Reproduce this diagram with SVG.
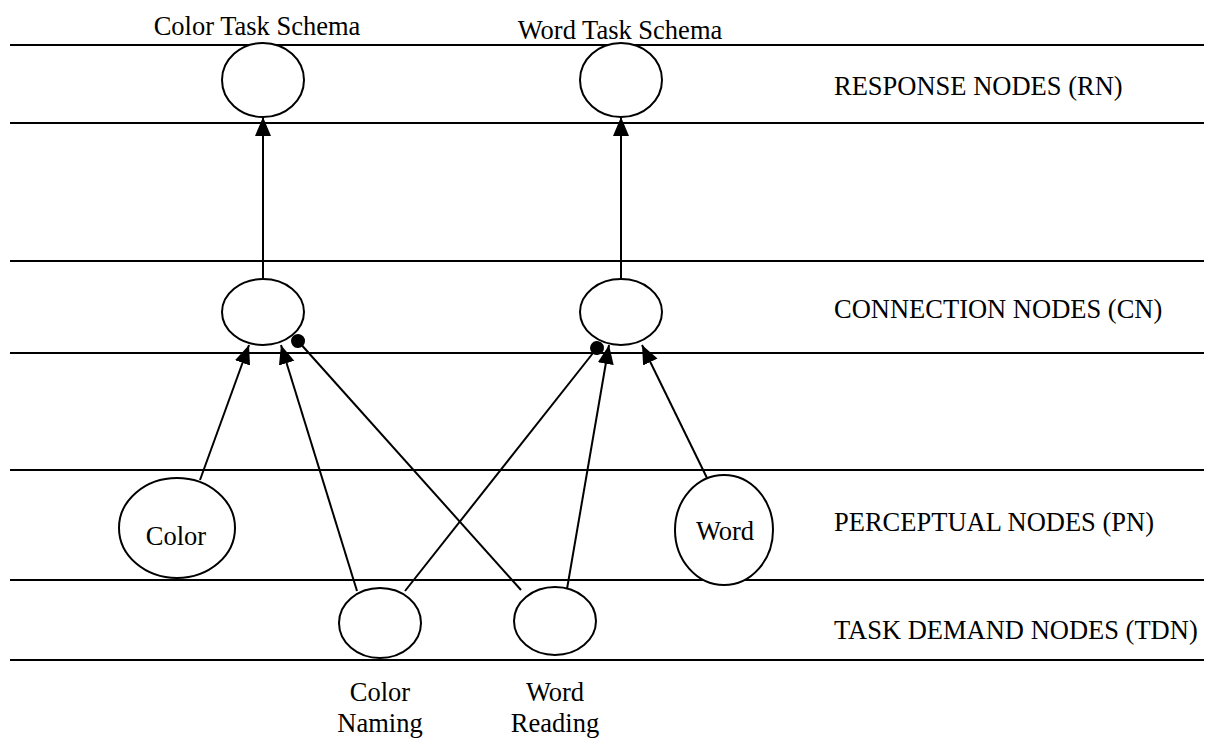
<svg xmlns="http://www.w3.org/2000/svg" width="1214" height="739" viewBox="0 0 1214 739">
<style>
.band{stroke:#000;stroke-width:2;fill:none}
.node{fill:#fff;stroke:#000;stroke-width:2}
.edge{stroke:#000;stroke-width:2;fill:none}
text{font-family:"Liberation Serif","Times New Roman",serif;font-size:26.5px;fill:#000}
.c{text-anchor:middle}
</style>
<defs>
<marker id="arr" markerWidth="20" markerHeight="18" refX="19" refY="9" orient="auto" markerUnits="userSpaceOnUse">
<path d="M0,1 L19,9 L0,17 Z" fill="#000"/>
</marker>
<marker id="dot" markerWidth="16" markerHeight="16" refX="8" refY="8" orient="auto" markerUnits="userSpaceOnUse">
<circle cx="8" cy="8" r="7" fill="#000"/>
</marker>
</defs>
<rect width="1214" height="739" fill="#fff"/>
<g id="bands">
<line class="band" x1="10" y1="45" x2="1204" y2="45"/>
<line class="band" x1="10" y1="123" x2="1204" y2="123"/>
<line class="band" x1="10" y1="261" x2="1204" y2="261"/>
<line class="band" x1="10" y1="353" x2="1204" y2="353"/>
<line class="band" x1="10" y1="470" x2="1204" y2="470"/>
<line class="band" x1="10" y1="580" x2="1204" y2="580"/>
<line class="band" x1="10" y1="660" x2="1204" y2="660"/>
</g>
<g id="layer-labels">
<text x="834" y="95">RESPONSE NODES (RN)</text>
<text x="834" y="318">CONNECTION NODES (CN)</text>
<text x="834" y="531">PERCEPTUAL NODES (PN)</text>
<text x="834" y="639">TASK DEMAND NODES (TDN)</text>
</g>
<g id="connectors">
<line class="edge" x1="263" y1="279" x2="263" y2="117" marker-end="url(#arr)"/>
<line class="edge" x1="621" y1="279" x2="621" y2="117" marker-end="url(#arr)"/>
<line class="edge" x1="200" y1="480" x2="249" y2="345" marker-end="url(#arr)"/>
<line class="edge" x1="357" y1="591" x2="281" y2="345" marker-end="url(#arr)"/>
<line class="edge" x1="521" y1="590" x2="298" y2="341" marker-end="url(#dot)"/>
<line class="edge" x1="405" y1="591" x2="597" y2="348" marker-end="url(#dot)"/>
<line class="edge" x1="567" y1="589" x2="609" y2="345" marker-end="url(#arr)"/>
<line class="edge" x1="707" y1="478" x2="642" y2="345" marker-end="url(#arr)"/>
</g>
<g id="color-task-schema">
<ellipse class="node" cx="263" cy="80" rx="41" ry="37"/>
<text class="c" x="257" y="35">Color Task Schema</text>
</g>
<g id="word-task-schema">
<ellipse class="node" cx="621" cy="80" rx="41" ry="37"/>
<text class="c" x="620" y="39">Word Task Schema</text>
</g>
<g id="color-connection">
<ellipse class="node" cx="263" cy="312" rx="41" ry="33"/>
</g>
<g id="word-connection">
<ellipse class="node" cx="621" cy="312" rx="41" ry="33"/>
</g>
<g id="color-perceptual">
<ellipse class="node" cx="177" cy="528" rx="58" ry="50"/>
<text class="c" x="176" y="545">Color</text>
</g>
<g id="word-perceptual">
<ellipse class="node" cx="724" cy="530" rx="49" ry="55"/>
<text class="c" x="725" y="540">Word</text>
</g>
<g id="color-naming">
<ellipse class="node" cx="380" cy="623" rx="41" ry="35"/>
<text class="c" x="380" y="701">Color</text>
<text class="c" x="380" y="732">Naming</text>
</g>
<g id="word-reading">
<ellipse class="node" cx="555" cy="621" rx="41" ry="34"/>
<text class="c" x="555" y="701">Word</text>
<text class="c" x="555" y="732">Reading</text>
</g>
</svg>
